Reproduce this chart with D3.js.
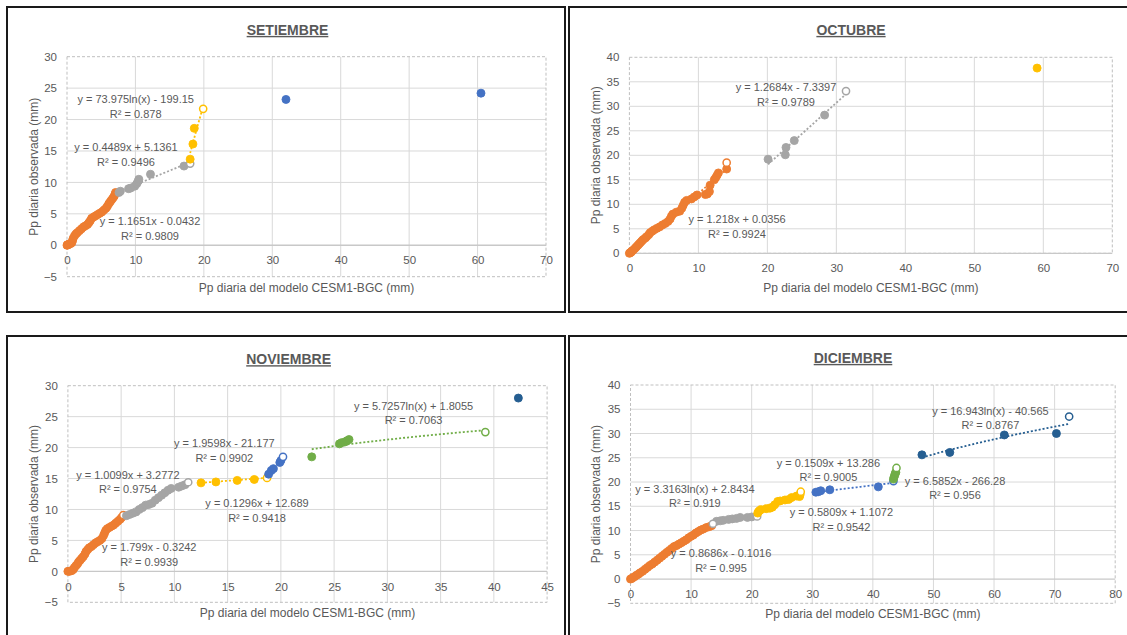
<!DOCTYPE html>
<html>
<head>
<meta charset="utf-8">
<script src="https://cdn.jsdelivr.net/npm/d3@7"></script>
<style>
  body { margin: 0; background: #fff; }
  text { font-family: "Liberation Sans", Arial, sans-serif; }
</style>
</head>
<body>
<svg id="chart" width="1127" height="635"></svg>
<script>
// ---------- data: [modelled mm, observed mm] ----------
// SETIEMBRE
const setOrange = [[0,0],[0.05,0.05],[0.1,0.1],[0.2,0.1],[0.3,0.2],[0.5,0.25],[0.7,0.4],[0.8,0.7],[0.9,1.1],[1.1,1.5],[1.3,1.8],[1.5,2.0],[1.8,2.3],[2.1,2.6],[2.4,2.9],[2.7,3.1],[3.0,3.3],[3.2,3.6],[3.4,3.9],[3.6,4.3],[3.9,4.5],[4.2,4.7],[4.5,4.9],[4.8,5.1],[5.1,5.3],[5.4,5.6],[5.7,5.9],[5.9,6.2],[6.1,6.6],[6.3,6.9],[6.5,7.2],[6.7,7.5],[6.9,7.8],[7.0,8.1],[7.1,8.4]];
const setGray = [[7.6,8.4],[7.8,8.6],[9.0,9.0],[9.3,9.1],[9.9,9.4],[10.2,9.8],[10.4,10.2],[10.5,10.5],[12.2,11.3],[17.1,12.6]];
const setGrayOpen = [[18.0,13.0]];
const setYellow = [[18.0,13.7],[18.4,16.1],[18.6,18.6]];
const setYellowOpen = [[19.9,21.7]];
const setBlue = [[32.0,23.2],[60.5,24.2]];

// OCTUBRE
const octOrange = [[0,0],[0.1,0.1],[0.2,0.2],[0.3,0.3],[0.4,0.5],[0.6,0.7],[0.8,1.0],[1.0,1.3],[1.2,1.6],[1.4,1.9],[1.6,2.2],[1.8,2.5],[2.0,2.8],[2.3,3.1],[2.5,3.4],[2.8,3.8],[3.0,4.2],[3.3,4.5],[3.6,4.8],[4.0,5.1],[4.4,5.4],[4.8,5.8],[5.2,6.1],[5.6,6.5],[5.9,7.0],[6.1,7.6],[6.3,8.0],[6.8,8.4],[7.3,8.6],[7.6,9.2],[7.8,9.8],[8.0,10.4],[8.3,10.8],[9.0,11.1],[9.4,11.5],[9.8,11.9],[11.0,12.0],[11.3,12.1],[11.6,12.6],[11.7,13.9],[12.3,15.0],[12.5,15.4],[12.7,15.9],[12.9,16.4],[14.1,17.2]];
const octOrangeOpen = [[14.1,18.5]];
const octGray = [[20.1,19.2],[22.6,20.1],[22.7,21.6],[23.9,23.0],[28.3,28.2]];
const octGrayOpen = [[31.4,33.1]];
const octYellow = [[59.1,37.8]];

// NOVIEMBRE
const novOrange = [[0,0],[0.1,0],[0.2,0.05],[0.35,0.1],[0.5,0.3],[0.6,0.6],[0.75,0.9],[0.9,1.2],[1.0,1.5],[1.15,1.8],[1.3,2.1],[1.45,2.4],[1.6,2.8],[1.7,3.2],[1.85,3.5],[2.0,3.8],[2.2,4.0],[2.4,4.3],[2.6,4.6],[2.8,4.8],[3.0,5.0],[3.2,5.3],[3.35,5.8],[3.45,6.2],[3.55,6.6],[3.7,6.9],[3.9,7.1],[4.1,7.3],[4.3,7.5],[4.5,7.8],[4.7,8.1],[4.9,8.4],[5.05,8.7]];
const novOrangeOpen = [[5.2,9.1]];
const novGray = [[5.5,9.0],[5.8,9.2],[6.1,9.4],[6.4,9.6],[6.7,10.0],[7.0,10.3],[7.3,10.7],[7.6,10.8],[7.9,11.0],[8.2,11.5],[8.5,11.9],[8.8,12.3],[9.1,12.7],[9.4,13.1],[9.7,13.4],[10.4,13.6],[10.7,13.8],[11.0,14.0]];
const novGrayOpen = [[11.3,14.4]];
const novYellow = [[12.5,14.3],[13.9,14.45],[15.9,14.7],[17.5,14.85]];
const novYellowOpen = [[18.7,15.1]];
const novBlue = [[18.85,15.7],[19.1,16.3],[19.3,16.6],[19.9,17.6],[20.0,17.9]];
const novBlueOpen = [[20.2,18.5]];
const novGreen = [[22.9,18.5],[25.5,20.6],[25.7,20.8],[26.0,20.9],[26.2,21.1],[26.4,21.3]];
const novGreenOpen = [[39.2,22.5]];
const novNavy = [[42.3,28.0]];

// DICIEMBRE
const dicOrange = [[0,0],[0.2,0.1],[0.4,0.3],[0.7,0.5],[1.0,0.8],[1.3,1.0],[1.6,1.3],[2.0,1.6],[2.4,2.0],[2.8,2.4],[3.2,2.8],[3.6,3.1],[4.0,3.5],[4.4,3.9],[4.8,4.3],[5.2,4.7],[5.6,5.1],[6.0,5.5],[6.4,5.9],[6.8,6.3],[7.2,6.7],[7.6,6.9],[8.0,7.2],[8.4,7.5],[8.8,7.8],[9.2,8.1],[9.6,8.5],[10.0,8.8],[10.4,9.1],[10.8,9.5],[11.2,9.8],[11.6,10.1],[12.0,10.3],[12.5,10.6],[13.0,10.8],[13.4,11.0]];
const dicGray = [[14.2,11.9],[14.8,12.0],[15.3,12.1],[16.2,12.3],[16.8,12.4],[17.5,12.5],[18.1,12.7],[19.3,12.7],[20.0,12.8]];
const dicGrayOpen = [[13.6,11.4],[20.9,12.9]];
const dicYellow = [[21.0,13.6],[21.2,14.0],[21.5,14.3],[22.4,14.5],[23.0,14.6],[23.4,14.8],[23.8,15.3],[24.3,16.0],[24.7,16.1],[25.5,16.3],[26.1,16.4],[26.6,16.8],[27.4,17.1],[27.9,17.0],[28.0,17.4]];
const dicYellowOpen = [[28.1,18.0]];
const dicBlue = [[30.6,17.9],[31.0,18.0],[31.4,18.2],[32.9,18.4],[40.9,19.0]];
const dicBlueOpen = [[43.4,20.2]];
const dicGreen = [[43.4,20.6],[43.5,21.0],[43.6,21.4],[43.7,21.8],[43.8,22.0]];
const dicGreenOpen = [[43.9,22.9]];
const dicNavy = [[48.1,25.6],[52.7,26.1],[61.7,29.7],[70.3,30.0]];
const dicNavyOpen = [[72.4,33.5]];

// fitted trendlines: [type, a, b, R²]  (lin: a·x + b, log: a·ln(x) + b)
const setFits = { orange: ["lin",1.1651,-0.0432,0.9809], gray: ["lin",0.4489,5.1361,0.9496], yellow: ["log",73.975,-199.15,0.878] };
const octFits = { orange: ["lin",1.218,0.0356,0.9924], gray: ["lin",1.2684,-7.3397,0.9789] };
const novFits = { orange: ["lin",1.799,-0.3242,0.9939], gray: ["lin",1.0099,3.2772,0.9754], yellow: ["lin",0.1296,12.689,0.9418], blue: ["lin",1.9598,-21.177,0.9902], green: ["log",5.7257,1.8055,0.7063] };
const dicFits = { orange: ["lin",0.8686,-0.1016,0.995], gray: ["log",3.3163,2.8434,0.919], yellow: ["lin",0.5809,1.1072,0.9542], blue: ["lin",0.1509,13.286,0.9005], green: ["lin",6.5852,-266.28,0.956], navy: ["log",16.943,-40.565,0.8767] };

const titles = ["SETIEMBRE", "OCTUBRE", "NOVIEMBRE", "DICIEMBRE"];
const xAxisTitle = "Pp diaria del modelo CESM1-BGC (mm)";
const yAxisTitle = "Pp diaria observada (mm)";

// ---------- styling / layout ----------
const colors = { orange:"#ED7D31", gray:"#A5A5A5", yellow:"#FFC000", blue:"#4472C4", green:"#70AD47", navy:"#255E91" };
const textColor = "#595959";

const panels = [
  { title: titles[0], box:[7,7,558,305], plot:[67,56.7,546,276.7], xMax:70, xStep:10, yMin:-5, yMax:30,
    titlePos:[287.5,30], xTitleY:287.5, yTitleX:34,
    series:[
      {c:"orange", pts:setOrange, open:[], fit:setFits.orange, lab:[12.13,3.82]},
      {c:"gray", pts:setGray, open:setGrayOpen, fit:setFits.gray, lab:[8.62,15.6]},
      {c:"yellow", pts:setYellow, open:setYellowOpen, fit:setFits.yellow, lab:[10.04,23.2]},
      {c:"blue", pts:setBlue, open:[]}
    ]},
  { title: titles[1], box:[569,7,570,305], plot:[629.4,57.3,1112.3,253.3], xMax:70, xStep:10, yMin:0, yMax:40,
    titlePos:[851,30], xTitleY:288, yTitleX:596,
    series:[
      {c:"orange", pts:octOrange, open:octOrangeOpen, fit:octFits.orange, lab:[15.6,6.94]},
      {c:"gray", pts:octGray, open:octGrayOpen, fit:octFits.gray, lab:[22.7,33.9]},
      {c:"yellow", pts:octYellow, open:[]}
    ]},
  { title: titles[2], box:[7,336,558,320], plot:[67.9,385.7,547.1,602.3], xMax:45, xStep:5, yMin:-5, yMax:30,
    titlePos:[288.6,359.3], xTitleY:613, yTitleX:34,
    series:[
      {c:"orange", pts:novOrange, open:novOrangeOpen, fit:novFits.orange, lab:[7.64,3.88]},
      {c:"gray", pts:novGray, open:novGrayOpen, fit:novFits.gray, lab:[5.63,15.62]},
      {c:"yellow", pts:novYellow, open:novYellowOpen, fit:novFits.yellow, lab:[17.76,10.99]},
      {c:"blue", pts:novBlue, open:novBlueOpen, fit:novFits.blue, lab:[14.69,20.68]},
      {c:"green", pts:novGreen, open:novGreenOpen, fit:novFits.green, lab:[32.46,26.7]},
      {c:"navy", pts:novNavy, open:[]}
    ]},
  { title: titles[3], box:[569,336,570,320], plot:[630.5,385,1115.2,603.3], xMax:80, xStep:10, yMin:-5, yMax:40,
    titlePos:[853,358], xTitleY:614, yTitleX:596,
    series:[
      {c:"orange", pts:dicOrange, open:[], fit:dicFits.orange, lab:[14.94,5.3]},
      {c:"gray", pts:dicGray, open:dicGrayOpen, fit:dicFits.gray, lab:[10.63,18.55]},
      {c:"yellow", pts:dicYellow, open:dicYellowOpen, fit:dicFits.yellow, lab:[34.81,13.75]},
      {c:"blue", pts:dicBlue, open:dicBlueOpen, fit:dicFits.blue, lab:[32.66,23.97]},
      {c:"green", pts:dicGreen, open:dicGreenOpen, fit:dicFits.green, lab:[53.56,20.2]},
      {c:"navy", pts:dicNavy, open:dicNavyOpen, fit:dicFits.navy, lab:[59.4,34.63]}
    ]}
];

const svg = d3.select("#chart");

function fmtEq(fit) {
  const [type, a, b] = fit;
  const term = type === "log" ? `${a}ln(x)` : `${a}x`;
  return `y = ${term} ${b < 0 ? "-" : "+"} ${Math.abs(b)}`;
}

function drawPanel(p) {
  const g = svg.append("g");
  const [px0, py0, px1, py1] = p.plot;
  const x = d3.scaleLinear().domain([0, p.xMax]).range([px0, px1]);
  const y = d3.scaleLinear().domain([p.yMin, p.yMax]).range([py1, py0]);
  const xTicks = d3.range(0, p.xMax + 1e-9, p.xStep);
  const yTicks = d3.range(p.yMin, p.yMax + 1e-9, 5);

  // frame of the chart
  g.append("rect")
    .attr("x", p.box[0]).attr("y", p.box[1]).attr("width", p.box[2]).attr("height", p.box[3])
    .attr("fill", "#fff").attr("stroke", "#1a1a1a").attr("stroke-width", 2);

  // gridlines
  g.append("g").selectAll("line").data(xTicks.filter(v => v > 0 && v < p.xMax)).join("line")
    .attr("x1", d => x(d)).attr("x2", d => x(d)).attr("y1", py0).attr("y2", py1)
    .attr("stroke", "#d9d9d9").attr("stroke-width", 1);
  g.append("g").selectAll("line").data(yTicks.filter(v => v > p.yMin && v < p.yMax && v !== 0)).join("line")
    .attr("x1", px0).attr("x2", px1).attr("y1", d => y(d)).attr("y2", d => y(d))
    .attr("stroke", "#d9d9d9").attr("stroke-width", 1);

  // dashed plot-area outline
  g.append("rect")
    .attr("x", px0).attr("y", py0).attr("width", px1 - px0).attr("height", py1 - py0)
    .attr("fill", "none").attr("stroke", "#bfbfbf").attr("stroke-dasharray", "3,2");

  // horizontal axis line at zero
  g.append("line").attr("x1", px0).attr("x2", px1).attr("y1", y(0)).attr("y2", y(0))
    .attr("stroke", "#c8c8c8").attr("stroke-width", 1.3);

  // axes
  const xa = g.append("g").attr("transform", `translate(0,${y(0)})`)
    .call(d3.axisBottom(x).tickValues(xTicks).tickSize(0).tickPadding(11).tickFormat(d3.format("d")));
  const ya = g.append("g").attr("transform", `translate(${px0},0)`)
    .call(d3.axisLeft(y).tickValues(yTicks).tickSize(0).tickPadding(10).tickFormat(d3.format("d")));
  [xa, ya].forEach(a => {
    a.select(".domain").remove();
    a.selectAll("text").attr("fill", textColor).style("font-size", "11.5px")
      .style("font-family", '"Liberation Sans", Arial, sans-serif');
  });

  // trendlines (dotted), spanning each series' x range
  const line = d3.line().x(d => x(d[0])).y(d => y(d[1]));
  p.series.filter(s => s.fit).forEach(s => {
    const all = s.pts.concat(s.open);
    const [lo, hi] = d3.extent(all, d => d[0]);
    const [type, a, b] = s.fit;
    const f = type === "log" ? v => a * Math.log(v) + b : v => a * v + b;
    const xs = d3.range(0, 41).map(i => lo + (hi - lo) * i / 40).filter(v => v > 0);
    g.append("path").datum(xs.map(v => [v, f(v)]))
      .attr("d", line).attr("fill", "none")
      .attr("stroke", colors[s.c]).attr("stroke-width", 1.8).attr("stroke-dasharray", "2,2");
  });

  // markers
  p.series.forEach(s => {
    g.append("g").selectAll("circle").data(s.pts).join("circle")
      .attr("cx", d => x(d[0])).attr("cy", d => y(d[1])).attr("r", 4)
      .attr("fill", colors[s.c]).attr("stroke", colors[s.c]).attr("stroke-width", 0.9);
    g.append("g").selectAll("circle").data(s.open).join("circle")
      .attr("cx", d => x(d[0])).attr("cy", d => y(d[1])).attr("r", 3.6)
      .attr("fill", "#fff").attr("stroke", colors[s.c]).attr("stroke-width", 1.5);
  });

  // trendline equations
  p.series.filter(s => s.fit).forEach(s => {
    const t = g.append("text").attr("text-anchor", "middle").attr("fill", textColor)
      .style("font-size", "11px");
    t.append("tspan").attr("x", x(s.lab[0])).attr("y", y(s.lab[1])).attr("dy", "0.35em").text(fmtEq(s.fit));
    t.append("tspan").attr("x", x(s.lab[0])).attr("y", y(s.lab[1]) + 14.5).attr("dy", "0.35em").text(`R² = ${s.fit[3]}`);
  });

  // titles
  g.append("text").attr("x", p.titlePos[0]).attr("y", p.titlePos[1]).attr("dy", "0.35em")
    .attr("text-anchor", "middle").attr("fill", textColor)
    .style("font-size", "14px").style("font-weight", "bold").style("text-decoration", "underline")
    .text(p.title);
  g.append("text").attr("x", (px0 + px1) / 2).attr("y", p.xTitleY).attr("dy", "0.35em")
    .attr("text-anchor", "middle").attr("fill", textColor).style("font-size", "12px")
    .text(xAxisTitle);
  g.append("text").attr("transform", `translate(${p.yTitleX},${(py0 + py1) / 2}) rotate(-90)`)
    .attr("dy", "0.35em").attr("text-anchor", "middle").attr("fill", textColor).style("font-size", "12px")
    .text(yAxisTitle);
}

panels.forEach(drawPanel);
</script>
</body>
</html>
